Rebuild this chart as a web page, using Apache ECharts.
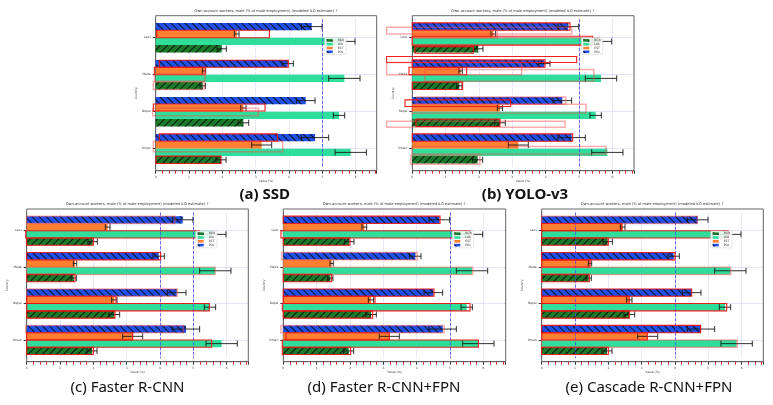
<!DOCTYPE html>
<html>
<head>
<meta charset="utf-8">
<script src="https://cdn.jsdelivr.net/npm/echarts@6/dist/echarts.min.js"></script>
<style>
  html, body { margin: 0; padding: 0; background: #fff; }
  #chart { width: 773px; height: 405px; }
</style>
</head>
<body>
<div id="chart"></div>
<script>
// categories, top to bottom
const categories = ['Laos', 'Malta', 'Nepal', 'Oman'];
// legend order (top to bottom): dark green, light green, orange, blue
const legendNames = ['BGR', 'LVA', 'EST', 'POL'];

const blueVals = [4.68, 3.96, 4.50, 4.78];
const orangeVals = [2.43, 1.45, 2.63, 3.18];
const lightVals = [5.56, 5.66, 5.50, 5.85];
const darkVals = [1.98, 1.41, 2.63, 1.96];

const blueErr = [0.31, 0.17, 0.28, 0.41];
const orangeErr = [0.07, 0.05, 0.08, 0.30];
const lightErr = [0.42, 0.47, 0.17, 0.47];
const darkErr = [0.14, 0.08, 0.16, 0.15];

const titleText = 'Own-account workers, male (% of male employment) (modeled ILO estimate) \u2191';

// detection boxes: [category, slotFrom, slotTo, xFrom, xTo, strong]
// slot 0 = blue (top bar of group) ... 4 = bottom of dark green bar
const boxesSSD = [
  [0, 1, 2, 0.03, 3.41, 1],
  [1, 0.05, 1, 0.11, 3.98, 1],
  [1, 1, 2, -0.04, 1.48, 1],
  [1, 1.9, 2.9, -0.04, 1.48, 0],
  [1, 3, 4, -0.07, 1.45, 0],
  [2, 0.95, 1.9, -0.07, 3.28, 1],
  [2, 1.55, 2.55, -0.09, 3.08, 0],
  [3, 0, 1, 0.11, 3.65, 1],
  [3, 1, 2.4, -0.07, 3.81, 0],
  [3, 3, 4, 0.01, 1.96, 1]
];
const boxesYOLO = [
  [0, 0.6, 1.5, -0.77, 4.78, 0],
  [0, 0, 1, 0, 4.73, 1],
  [0, 1, 2, 0, 2.55, 0],
  [0, 1.8, 3.0, 0, 5.41, 1],
  [0, 2, 3, 0, 5.6, 0],
  [0, 3.2, 4.1, 0.08, 1.83, 1],
  [1, -0.45, 0.35, -0.77, 4.93, 1],
  [1, 0, 1, 0, 3.98, 1],
  [1, 0.35, 2.0, -0.77, 3.28, 0],
  [1, 1, 2, -0.1, 1.63, 1],
  [1, 1.3, 2.9, 0.38, 5.45, 0],
  [1, 3, 4, 0, 1.51, 1],
  [2, 0, 1, 0.13, 4.6, 0],
  [2, 0.4, 1.3, -0.22, 2.95, 1],
  [2, 1, 2.2, 0, 5.21, 0],
  [2, 3.3, 4.1, -0.77, 4.58, 0],
  [2, 3, 4, 0.11, 2.63, 1],
  [3, 0, 1, 0, 4.81, 1],
  [3, 1.7, 2.7, 0, 5.81, 0],
  [3, 2.9, 4.1, -0.05, 2.03, 0]
];
const boxesFRCNN = [
  [0, 0, 1, 0, 4.45, 0], [0, 2, 3, -0.03, 5.18, 1], [0, 3, 4, 0, 2.0, 1],
  [1, 0, 1, 0, 4.02, 1], [1, 2, 3, 0, 5.65, 0], [1, 3, 4, 0, 1.45, 1],
  [2, 0, 1, 0, 4.52, 0], [2, 1, 2, 0, 2.68, 1], [2, 2, 3, 0, 5.48, 1], [2, 3, 4, 0, 2.65, 1],
  [3, 0, 1, -0.03, 4.7, 0], [3, 1, 2, 0, 3.18, 1], [3, 2, 3, 0, 5.55, 1], [3, 3, 4, 0, 2.0, 1]
];
const boxesFPN = [
  [0, 0, 1, 0, 4.7, 1], [0, 2, 3, -0.07, 5.6, 1], [0, 3, 4, 0, 2.0, 1],
  [1, 0, 1, -0.05, 4.02, 0], [1, 2, 3, 0, 5.68, 0], [1, 3, 4, 0, 1.45, 1],
  [2, 0, 1, 0, 4.52, 1], [2, 1, 2, 0, 2.75, 1], [2, 2, 3, -0.03, 5.6, 1], [2, 3, 4, 0, 2.68, 1],
  [3, 0, 1, -0.07, 4.82, 0], [3, 1, 2, 0.08, 3.18, 1], [3, 2, 3, -0.03, 5.85, 1], [3, 3, 4, -0.03, 2.02, 1]
];
const boxesCascade = [
  [0, 0, 1, 0, 4.67, 0], [0, 1, 2, 0, 2.4, 1], [0, 2, 3, 0, 5.6, 1], [0, 3, 4, 0, 2.0, 1],
  [1, 0, 1, 0, 4.0, 1], [1, 1, 2, 0, 1.45, 1], [1, 2, 3, 0, 5.67, 0], [1, 3, 4, 0, 1.43, 1],
  [2, 0, 1, 0, 4.5, 1], [2, 1, 2, 0, 2.63, 1], [2, 2, 3, 0, 5.55, 1], [2, 3, 4, 0, 2.63, 1],
  [3, 0, 1, 0, 4.77, 1], [3, 1, 2, 0, 3.17, 1], [3, 2, 3, 0, 5.87, 0], [3, 3, 4, 0, 2.0, 1]
];

// panel layout: frame [left, top, width, height]
const panels = [
  { caption: '(a) SSD', frame: [155.7, 15.7, 221, 155], xMax: 6.63, boxes: boxesSSD, vlines: [5], cap: [264.7, 195], bold: true },
  { caption: '(b) YOLO-v3', frame: [412.3, 15.7, 221.7, 155], xMax: 6.65, boxes: boxesYOLO, vlines: [5], cap: [525, 195], bold: true },
  { caption: '(c) Faster R-CNN', frame: [26.7, 209, 221.6, 152.7], xMax: 6.65, boxes: boxesFRCNN, vlines: [4, 5], cap: [127.5, 388] },
  { caption: '(d) Faster R-CNN+FPN', frame: [283.3, 209, 222.4, 152.7], xMax: 6.67, boxes: boxesFPN, vlines: [5], cap: [384, 388] },
  { caption: '(e) Cascade R-CNN+FPN', frame: [541.7, 209, 221.6, 152.7], xMax: 6.65, boxes: boxesCascade, vlines: [1, 4], cap: [649, 388] }
];
const inset = 3.5; // padding between frame and first/last category band

const hatch = (rot) => ({
  symbol: 'rect', symbolSize: 1, color: 'rgba(0,0,0,0.8)',
  dashArrayX: [1, 0], dashArrayY: [1, 4], rotation: rot
});

// bars drawn top -> bottom inside each group
const barDefs = [
  { name: 'POL', values: blueVals, errs: blueErr, color: '#1f50e8', decal: hatch(Math.PI / 4) },
  { name: 'EST', values: orangeVals, errs: orangeErr, color: '#ff8030' },
  { name: 'LVA', values: lightVals, errs: lightErr, color: '#2ede9a' },
  { name: 'BGR', values: darkVals, errs: darkErr, color: '#1b7a2c', decal: hatch(-Math.PI / 4) }
];

function slotY(api, cat, slot) {
  const band = api.size([0, 1])[1];
  return api.coord([0, cat])[1] + (-0.4 + slot * 0.2) * band;
}

function renderErr(params, api) {
  const cat = api.value(0), v = api.value(1), e = api.value(2), slot = api.value(3);
  const band = api.size([0, 1])[1];
  const yc = slotY(api, cat, slot + 0.5);
  const x0 = api.coord([v - e, cat])[0], x1 = api.coord([v + e, cat])[0];
  const h = band * 0.2 * 0.42;
  const st = { stroke: '#1a1a1a', lineWidth: 0.9 };
  return {
    type: 'group',
    children: [
      { type: 'line', shape: { x1: x0, y1: yc, x2: x1, y2: yc }, style: st },
      { type: 'line', shape: { x1: x0, y1: yc - h, x2: x0, y2: yc + h }, style: st },
      { type: 'line', shape: { x1: x1, y1: yc - h, x2: x1, y2: yc + h }, style: st }
    ]
  };
}

function renderBox(params, api) {
  const cat = api.value(0);
  const y0 = slotY(api, cat, api.value(1)), y1 = slotY(api, cat, api.value(2));
  const x0 = api.coord([api.value(3), cat])[0], x1 = api.coord([api.value(4), cat])[0];
  const strong = api.value(5) === 1;
  return {
    type: 'rect',
    shape: { x: x0, y: y0, width: x1 - x0, height: y1 - y0 },
    style: strong
      ? { fill: 'none', stroke: 'rgba(236,18,18,0.95)', lineWidth: 1.1 }
      : { fill: 'none', stroke: 'rgba(250,70,70,0.45)', lineWidth: 1.5 }
  };
}

const small = { fontFamily: 'DejaVu Sans', fontSize: 3, color: '#444' };

const grids = [], xAxes = [], yAxes = [], series = [], legends = [], graphics = [];
panels.forEach((p, i) => {
  const [l, t, w, h] = p.frame;
  grids.push({ left: l, top: t + inset, width: w, height: h - 2 * inset, containLabel: false });
  xAxes.push({
    gridIndex: i, type: 'value', min: 0, max: p.xMax, interval: 1, offset: inset,
    name: 'Value (%)', nameLocation: 'middle', nameGap: 7, nameTextStyle: small,
    axisLine: { show: true, lineStyle: { color: '#666', width: 1 } },
    axisTick: { show: true, length: 3, lineStyle: { color: '#333' } },
    minorTick: { show: true, splitNumber: 5, length: 3, lineStyle: { color: '#ee2222', width: 1 } },
    axisLabel: Object.assign({ margin: 5, showMaxLabel: false }, small),
    splitLine: { show: true, lineStyle: { type: 'dotted', color: 'rgba(100,100,230,0.35)', width: 0.8 } }
  });
  yAxes.push({
    gridIndex: i, type: 'category', data: categories, inverse: true,
    name: 'Country', nameLocation: 'middle', nameGap: 15, nameTextStyle: small,
    axisLine: { show: true, lineStyle: { color: '#666', width: 1 } },
    axisTick: { show: true, alignWithLabel: true, length: 3, lineStyle: { color: '#333' } },
    axisLabel: Object.assign({ margin: 5 }, small),
    splitLine: { show: true, alignWithLabel: true, lineStyle: { type: 'dotted', color: 'rgba(100,100,230,0.45)', width: 0.8 } }
  });
  barDefs.forEach((b, k) => {
    const s = {
      name: b.name, type: 'bar', xAxisIndex: i, yAxisIndex: i, data: b.values,
      barGap: '0%', barCategoryGap: '20%', silent: true, animation: false,
      itemStyle: { color: b.color, decal: b.decal }
    };
    if (k === 0) {
      s.markLine = {
        silent: true, symbol: 'none', label: { show: false },
        lineStyle: { type: 'dashed', color: '#4646ee', width: 0.8 },
        data: p.vlines.map(v => ({ xAxis: v }))
      };
    }
    series.push(s);
  });
  series.push({
    type: 'custom', xAxisIndex: i, yAxisIndex: i, renderItem: renderErr, silent: true, z: 5,
    encode: { x: 1, y: 0 },
    data: barDefs.flatMap((b, k) => b.values.map((v, c) => [c, v, b.errs[c], k]))
  });
  series.push({
    type: 'custom', xAxisIndex: i, yAxisIndex: i, renderItem: renderBox, silent: true, z: 6,
    encode: { x: 3, y: 0 },
    data: p.boxes
  });
  legends.push({
    left: l + 169, top: t + 22, orient: 'vertical', data: legendNames, icon: 'rect',
    itemWidth: 6, itemHeight: 2.6, itemGap: 0.8, padding: [1.2, 2],
    backgroundColor: 'rgba(255,255,255,0.85)', borderColor: '#ccc', borderWidth: 0.5, borderRadius: 1,
    textStyle: { fontFamily: 'DejaVu Sans', fontSize: 3, color: '#333' }, selectedMode: false, z: 10
  });
  // plot frame
  graphics.push({
    type: 'rect', shape: { x: l, y: t, width: w, height: h }, z: 1,
    style: { fill: 'none', stroke: '#666', lineWidth: 1 }
  });
  graphics.push({
    type: 'text', x: l + w / 2, y: t - 4.5,
    style: { text: titleText, textAlign: 'center', textVerticalAlign: 'middle', font: '3.6px "DejaVu Sans"', fill: '#333' }
  });
  graphics.push({
    type: 'text', x: p.cap[0], y: p.cap[1],
    style: {
      text: p.caption, textAlign: 'center', textVerticalAlign: 'middle',
      font: (p.bold ? 'bold 15px' : '15px') + ' "Noto Sans", sans-serif', fill: '#111'
    }
  });
});

const myChart = echarts.init(document.getElementById('chart'), null, { renderer: 'canvas' });
myChart.setOption({
  animation: false,
  backgroundColor: '#fff',
  grid: grids,
  xAxis: xAxes,
  yAxis: yAxes,
  legend: legends,
  series: series,
  graphic: graphics
});
</script>
</body>
</html>
